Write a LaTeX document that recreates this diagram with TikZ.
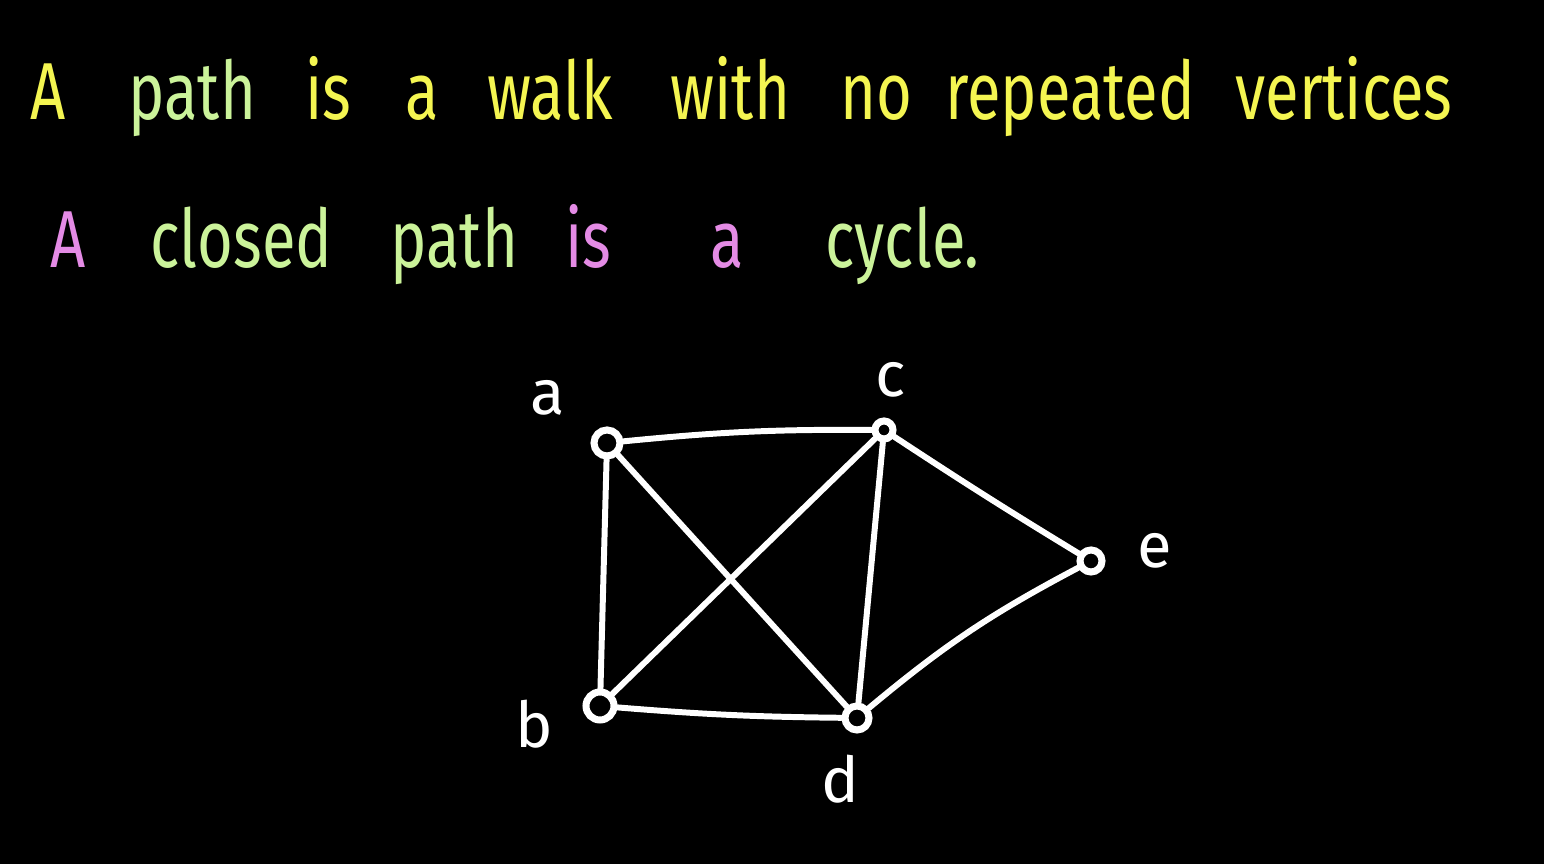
\documentclass[tikz,border=0pt]{standalone}
\usepackage{fontspec}
\setmainfont{Fira Sans}
\usepackage{tikz}
\definecolor{TXTyellow}{HTML}{F4F551}
\definecolor{TXTgreen}{HTML}{CBF39A}
\definecolor{TXTpink}{HTML}{E48BE5}

\begin{document}
\begin{tikzpicture}[
    word/.style={anchor=base west, inner sep=0pt, xscale=0.76, font=\fontsize{23}{27}\selectfont},
    vertex/.style={circle, draw=white, line width=2pt, inner sep=0pt},
    edge/.style={white, line width=1.7pt, line cap=round},
    lbl/.style={white, anchor=base, inner sep=0pt, font=\fontsize{18}{21}\selectfont}
  ]
  \fill[black] (0,0) rectangle (15.44,8.64);
  \useasboundingbox (0,0) rectangle (15.44,8.64);
  % first line
  \foreach \x/\col/\wrd [count=\i] in {
    0.30/TXTyellow/A, 1.28/TXTgreen/path, 3.05/TXTyellow/is, 4.05/TXTyellow/a,
    4.87/TXTyellow/walk, 6.70/TXTyellow/with, 8.40/TXTyellow/no,
    9.45/TXTyellow/repeated, 12.35/TXTyellow/vertices
  } {
    \node[word, \col] (top\i) at (\x,7.44) {\wrd};
  }
  % second line
  \foreach \x/\col/\wrd [count=\i] in {
    0.50/TXTpink/A, 1.50/TXTgreen/closed, 3.90/TXTgreen/path,
    5.65/TXTpink/is, 7.10/TXTpink/a, 8.25/TXTgreen/cycle.
  } {
    \node[word, \col] (bot\i) at (\x,5.96) {\wrd};
  }
  % graph
  \foreach \n/\x/\y/\s in {
    a/6.07/4.21/0.26, c/8.84/4.34/0.18, e/10.91/3.03/0.22,
    b/6.00/1.58/0.28, d/8.57/1.46/0.24
  } {
    \node[vertex, minimum size=\s cm] (\n) at (\x,\y) {};
  }
  \foreach \u/\v/\b in {
    a/c/3, a/b/0, a/d/0, c/b/0, c/d/0, c/e/-1, b/d/-2, d/e/6
  } {
    \draw[edge] (\u) to[bend left=\b] (\v);
  }
  \node[lbl] (la) at (5.48,4.49) {a};
  \node[lbl] (lc) at (8.91,4.67) {c};
  \node[lbl] (le) at (11.55,2.96) {e};
  \node[lbl] (lb) at (5.34,1.16) {b};
  \node[lbl] (ld) at (8.40,0.61) {d};
\end{tikzpicture}
\end{document}
